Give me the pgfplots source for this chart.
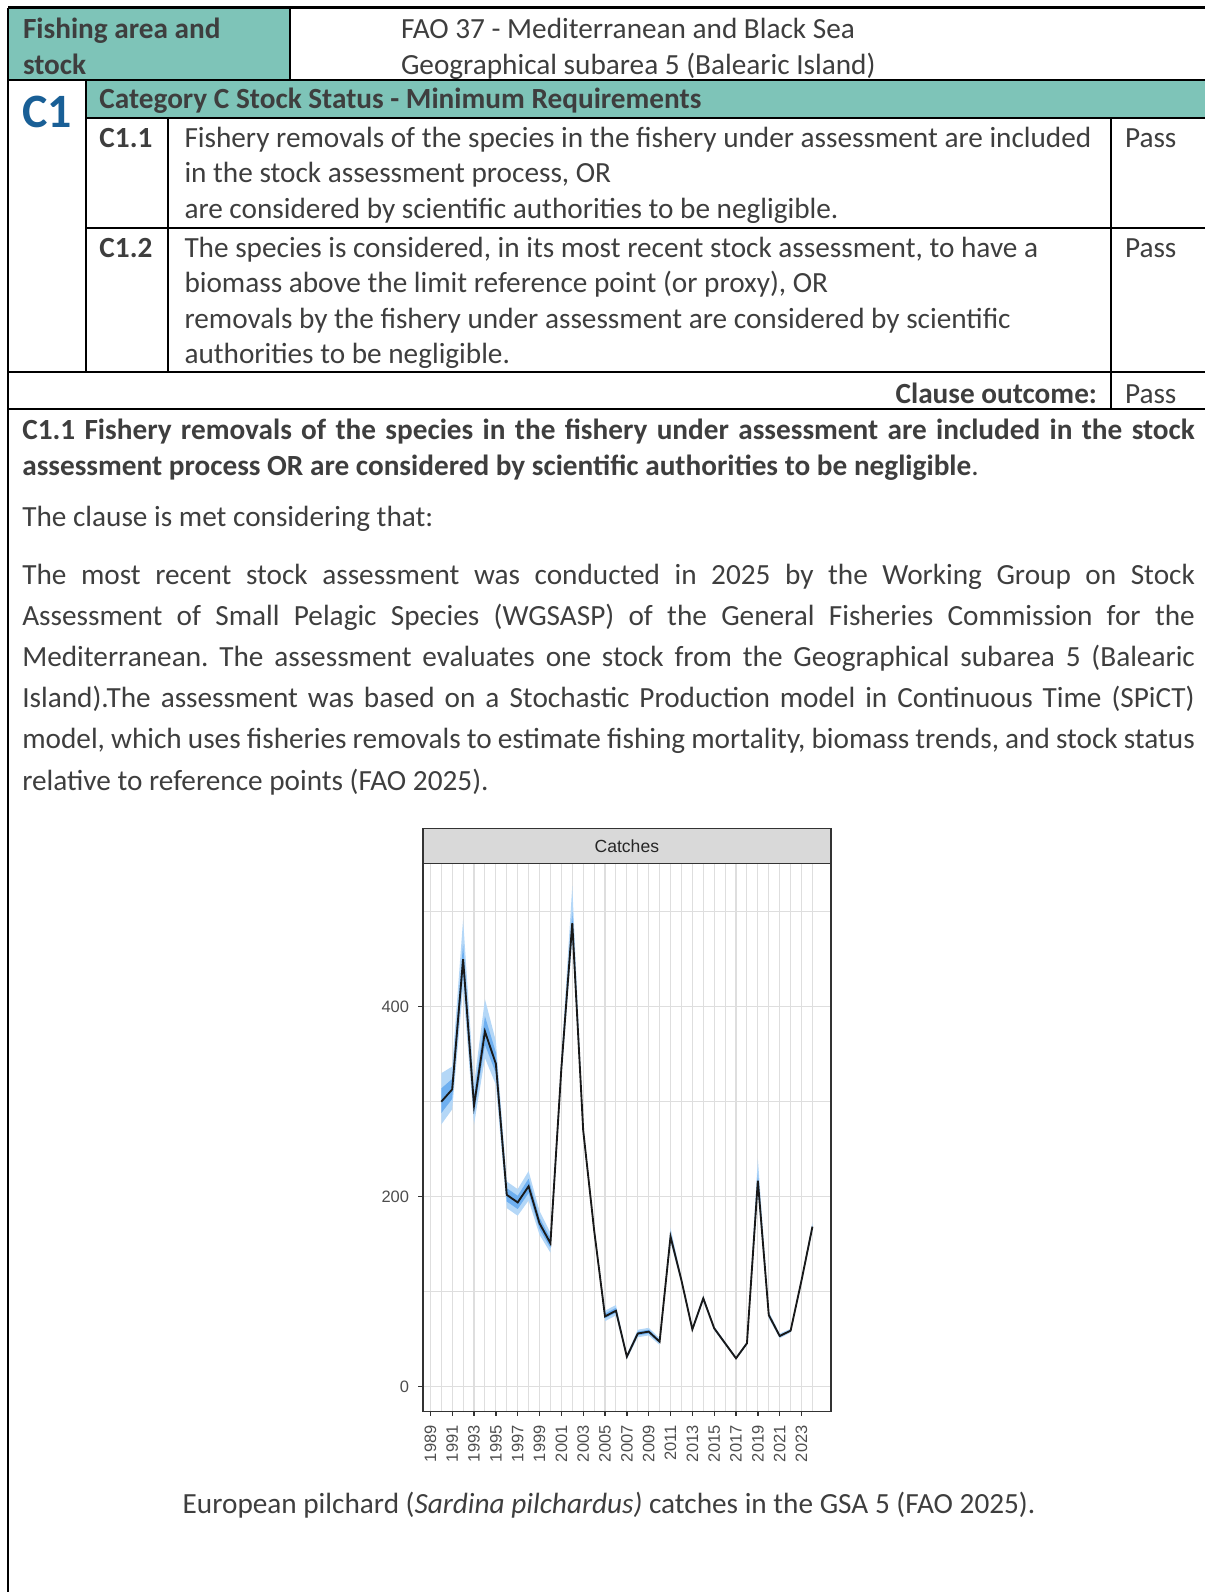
\documentclass[border=0pt]{standalone}
\usepackage{fontspec}
\setmainfont{Carlito}
\newfontfamily\chartfont{Liberation Sans}
\usepackage{pgfplots}
\pgfplotsset{compat=1.18}
\usepackage{pgfplotstable}
\usepgfplotslibrary{fillbetween}
\definecolor{teal1}{RGB}{126,196,184}
\definecolor{txt}{RGB}{62,62,62}
\definecolor{cblue}{RGB}{25,95,150}
\definecolor{gridc}{RGB}{222,222,222}
\definecolor{grey20}{RGB}{51,51,51}
\definecolor{grey30}{RGB}{77,77,77}
\definecolor{stripc}{RGB}{217,217,217}
\definecolor{bandout}{RGB}{180,215,247}
\definecolor{bandin}{RGB}{110,175,240}
\newcommand{\bodyfont}{\fontsize{11}{13.4}\selectfont}
\newcommand{\J}[1]{\makebox[440.9pt][s]{#1}}
\frenchspacing

\pgfplotstableread{
year C lo1 hi1 lo2 hi2
1990 300 276 330 288 314
1991 313 292 337 303 324
1992 450 420 492 436 466
1993 296 276 318 287 306
1994 374 346 408 360 390
1995 340 318 364 330 352
1996 202 188 216 195 209
1997 194 180 208 187 201
1998 211 196 227 204 219
1999 172 160 185 166 178
2000 151 141 162 146 156
2001 335 326 345 331 340
2002 488 470 527 480 500
2003 270 265 275 268 272
2004 165 162 168 164 166
2005 74 69 80 72 77
2006 80 75 86 78 83
2007 31.6 29 34 30.5 33
2008 56 52 60 54 58
2009 58 54 62 56 60
2010 47.4 44 51 46 49
2011 158 152 167 155 162
2012 112 109 115 111 113
2013 60.4 58 63 59.3 61.5
2014 93 90 96 92 94
2015 61.5 59.5 63.5 60.5 62.5
2016 45.7 44 47.5 45 46.5
2017 29.9 28.5 31.5 29.3 30.5
2018 45.7 44 47.5 45 46.5
2019 217 205 240 211 225
2020 75.4 72 79 74 77
2021 53.4 51 56 52.3 54.5
2022 59 57 61 58 60
2023 112 109 115 111 113
2024 168.5 164 173 166.5 170.5
}\catches

\begin{document}
\begin{tikzpicture}
\begin{scope}[x=0.376pt,y=-0.376pt, every node/.style={inner sep=0pt, outer sep=0pt, text=txt, font=\bodyfont}]
\path[use as bounding box] (0,0) rectangle (1205,1592);
\fill[teal1] (8,7.5) rectangle (289.7,80);
\fill[teal1] (86,80) rectangle (1205,118.3);
\begin{scope}[line width=0.8pt, black]
\draw (8,7.5) -- (1205,7.5);
\draw (8,7.5) -- (8,1592);
\draw (289.7,7.5) -- (289.7,80);
\draw (8,80) -- (1205,80);
\draw (86,80) -- (86,371.6);
\draw (86,118.3) -- (1205,118.3);
\draw (168.4,118.3) -- (168.4,371.6);
\draw (1111,118.3) -- (1111,409);
\draw (86,227.7) -- (1205,227.7);
\draw (8,371.6) -- (1205,371.6);
\draw (8,409) -- (1205,409);
\end{scope}
% row 1
\node[anchor=base west,font=\bodyfont\bfseries] at (23,38) {Fishing area and};
\node[anchor=base west,font=\bodyfont\bfseries] at (23,74) {stock};
\node[anchor=base west] at (401,38) {FAO 37 - Mediterranean and Black Sea};
\node[anchor=base west] at (401,74) {Geographical subarea 5 (Balearic Island)};
% C1
\node[anchor=base west,font=\fontsize{18}{20}\selectfont\bfseries,text=cblue] at (22.5,127) {C1};
\node[anchor=base west,font=\bodyfont\bfseries] at (99.5,108.5) {Category C Stock Status - Minimum Requirements};
% C1.1
\node[anchor=base west,font=\bodyfont\bfseries] at (99.5,147) {C1.1};
\node[anchor=base west] at (184.5,147) {Fishery removals of the species in the fishery under assessment are included};
\node[anchor=base west] at (184.5,182.5) {in the stock assessment process, OR};
\node[anchor=base west] at (184.5,218) {are considered by scientific authorities to be negligible.};
\node[anchor=base west] at (1125,147) {Pass};
% C1.2
\node[anchor=base west,font=\bodyfont\bfseries] at (99.5,257) {C1.2};
\node[anchor=base west] at (184.5,257) {The species is considered, in its most recent stock assessment, to have a};
\node[anchor=base west] at (184.5,292.5) {biomass above the limit reference point (or proxy), OR};
\node[anchor=base west] at (184.5,328) {removals by the fishery under assessment are considered by scientific};
\node[anchor=base west] at (184.5,363.5) {authorities to be negligible.};
\node[anchor=base west] at (1125,257) {Pass};
% clause outcome
\node[anchor=base east,font=\bodyfont\bfseries] at (1097,403) {Clause outcome:};
\node[anchor=base west] at (1125,403) {Pass};
% bold paragraph
\node[anchor=base west,font=\bodyfont\bfseries] at (22.3,439.5) {\J{C1.1 Fishery removals of the species in the fishery under assessment are included in the stock}};
\node[anchor=base west] at (22.3,475) {\textbf{assessment process OR are considered by scientific authorities to be negligible}.};
\node[anchor=base west] at (22.3,526) {The clause is met considering that:};
% paragraph
\node[anchor=base west] at (22.3,584) {\J{The most recent stock assessment was conducted in 2025 by the Working Group on Stock}};
\node[anchor=base west] at (22.3,625.2) {\J{Assessment of Small Pelagic Species (WGSASP) of the General Fisheries Commission for the}};
\node[anchor=base west] at (22.3,666.4) {\J{Mediterranean. The assessment evaluates one stock from the Geographical subarea 5 (Balearic}};
\node[anchor=base west] at (22.3,707.6) {\J{Island).The assessment was based on a Stochastic Production model in Continuous Time (SPiCT)}};
\node[anchor=base west] at (22.3,748.8) {\J{model, which uses fisheries removals to estimate fishing mortality, biomass trends, and stock status}};
\node[anchor=base west] at (22.3,790) {relative to reference points (FAO 2025).};
% caption
\node[anchor=base] at (609,1513) {European pilchard (\textit{Sardina pilchardus)} catches in the GSA 5 (FAO 2025).};
% strip
\draw[fill=stripc, draw=grey20, line width=0.6pt] (422.7,828.3) rectangle (831,863.3);
\node[font=\chartfont\fontsize{6.6}{8}\selectfont, text=black!85] at (626.85,846) {Catches};
\end{scope}

\begin{axis}[
  at={(158.94pt,-530.80pt)}, anchor=south west,
  scale only axis, width=153.52pt, height=206.20pt,
  xmin=1988.3, xmax=2025.7, ymin=-26.3, ymax=551,
  axis line style={draw=grey20, line width=0.6pt},
  xtick={1989,1991,...,2023}, minor xtick={1990,1992,...,2025},
  ytick={0,200,400}, minor ytick={100,300,500},
  grid=both,
  major grid style={draw=gridc, line width=0.45pt},
  minor grid style={draw=gridc, line width=0.35pt},
  tick align=outside, major tick length=1.6pt, minor tick length=0pt,
  tick style={grey20, line width=0.5pt},
  xtick pos=left, ytick pos=left,
  /pgf/number format/1000 sep={},
  /pgf/number format/assume math mode=true,
  xticklabel style={rotate=90, anchor=east, font=\chartfont\fontsize{6.2}{7}\selectfont, text=grey30},
  yticklabel style={font=\chartfont\fontsize{6.2}{7}\selectfont, text=grey30},
]
\addplot[name path=lo1, draw=none, forget plot] table[x=year, y=lo1] {\catches};
\addplot[name path=hi1, draw=none, forget plot] table[x=year, y=hi1] {\catches};
\addplot[bandout, draw=none, forget plot] fill between[of=lo1 and hi1];
\addplot[name path=lo2, draw=none, forget plot] table[x=year, y=lo2] {\catches};
\addplot[name path=hi2, draw=none, forget plot] table[x=year, y=hi2] {\catches};
\addplot[bandin, draw=none, forget plot] fill between[of=lo2 and hi2];
\addplot[black!90, line width=0.7pt, mark=none] table[x=year, y=C] {\catches};
\end{axis}
\end{tikzpicture}
\end{document}
